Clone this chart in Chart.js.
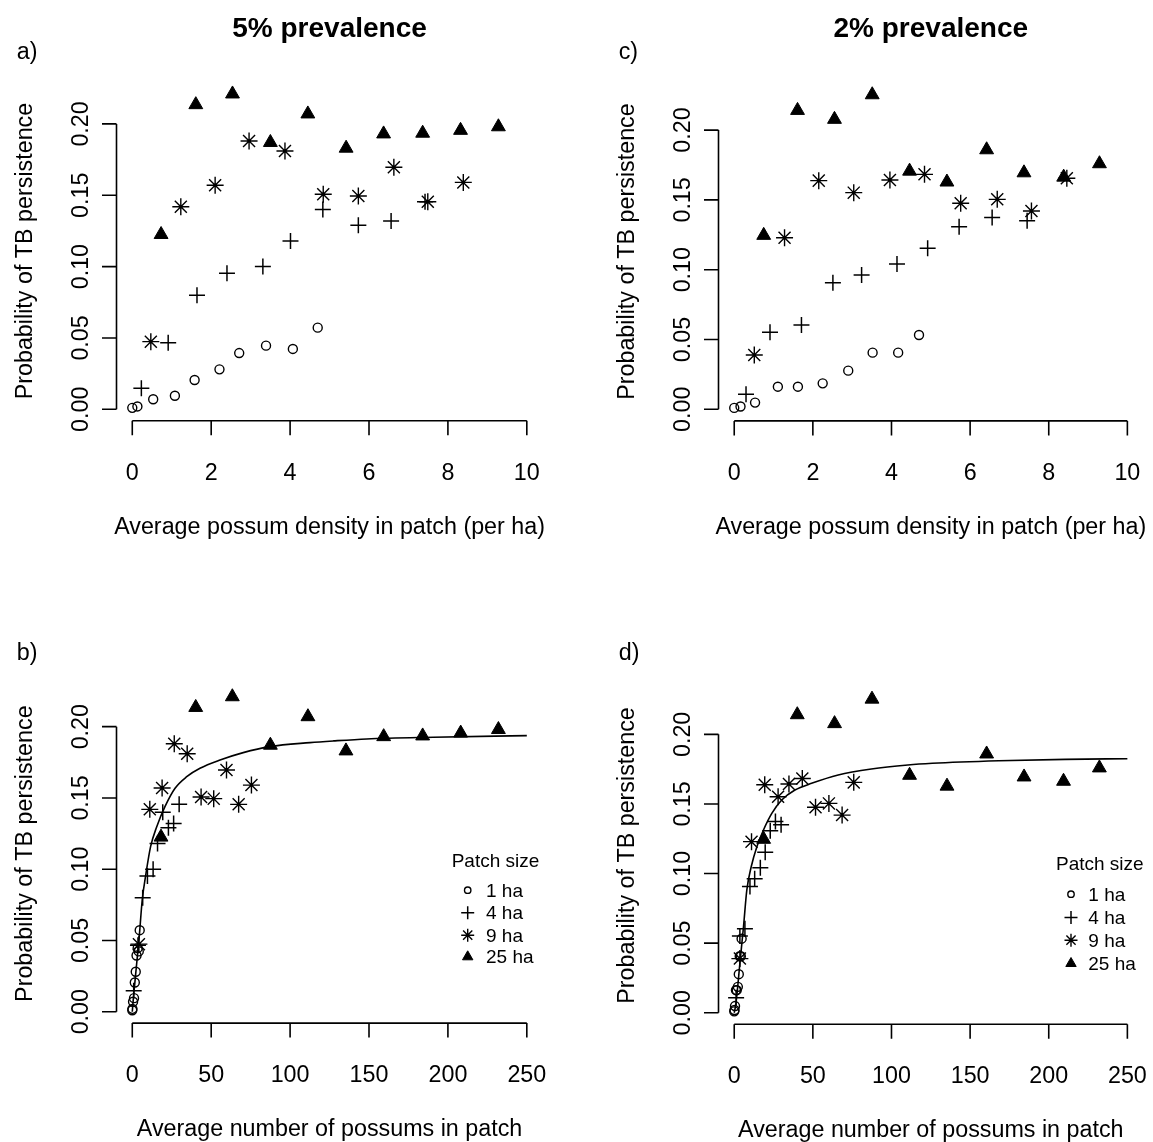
<!DOCTYPE html>
<html>
<head>
<meta charset="utf-8">
<script src="https://cdn.jsdelivr.net/npm/chart.js@4.4.1/dist/chart.umd.min.js"></script>
<style>
  html, body { margin: 0; padding: 0; background: #fff; }
  body { width: 1153px; height: 1142px; position: relative; overflow: hidden; }
  canvas { position: absolute; }
</style>
</head>
<body>
<canvas id="panelA" width="600" height="600" style="left:0px;top:0px"></canvas>
<canvas id="panelC" width="553" height="600" style="left:600px;top:0px"></canvas>
<canvas id="panelB" width="600" height="542" style="left:0px;top:600px"></canvas>
<canvas id="panelD" width="553" height="542" style="left:600px;top:600px"></canvas>
<script>
// patch sizes
const patchLabels = ["1 ha", "4 ha", "9 ha", "25 ha"];

// tick labels
const densityTicks = [0, 2, 4, 6, 8, 10];
const countTicks = [0, 50, 100, 150, 200, 250];
const probTicks = [0, 0.05, 0.10, 0.15, 0.20];

// ---- 5% prevalence ----
// probability of TB persistence, per patch size
const prob5_1ha  = [0.001, 0.002, 0.007, 0.0095, 0.0205, 0.028, 0.0394, 0.0446, 0.0423, 0.0572];
const prob5_4ha  = [0.0147, 0.0467, 0.080, 0.0953, 0.100, 0.118, 0.140, 0.129, 0.132, 0.1455];
const prob5_9ha  = [0.0474, 0.142, 0.157, 0.188, 0.181, 0.1507, 0.1495, 0.1696, 0.1455, 0.159];
const prob5_25ha = [0.1225, 0.2135, 0.221, 0.187, 0.207, 0.183, 0.193, 0.1935, 0.1955, 0.198];
// average possum density (per ha)
const dens5_1ha  = [0.0, 0.13, 0.53, 1.08, 1.58, 2.21, 2.71, 3.39, 4.07, 4.70];
const dens5_4ha  = [0.23, 0.91, 1.64, 2.40, 3.31, 4.01, 4.83, 5.73, 6.56, 7.42];
const dens5_9ha  = [0.47, 1.23, 2.10, 2.96, 3.87, 4.84, 5.73, 6.63, 7.49, 8.39];
const dens5_25ha = [0.73, 1.61, 2.54, 3.50, 4.45, 5.42, 6.37, 7.36, 8.32, 9.28];
// average number of possums in patch
const count5_1ha  = [0.0, 0.1, 0.5, 1.1, 1.6, 2.2, 2.7, 3.4, 4.1, 4.7];
const count5_4ha  = [0.9, 3.6, 6.6, 9.6, 13.2, 16.0, 19.3, 22.9, 26.2, 29.7];
const count5_9ha  = [4.2, 11.1, 18.9, 26.6, 34.8, 43.6, 51.6, 59.7, 67.4, 75.5];
const count5_25ha = [18.2, 40.2, 63.4, 87.5, 111.3, 135.4, 159.3, 184.0, 208.1, 232.0];
// fitted curve
const fit5X = [0, 0.6, 2.8, 4.4, 6.3, 8.7, 11.6, 15.5, 20.7, 27.1, 34.5, 42.9, 55.6, 70.3, 87.3, 112.6, 127.4, 148.5, 190.7, 250];
const fit5Y = [0.0, 0.0082, 0.034, 0.0526, 0.0784, 0.0971, 0.1158, 0.1298, 0.1439, 0.1568, 0.1649, 0.1708, 0.1766, 0.1818, 0.186, 0.1888, 0.190, 0.1914, 0.1926, 0.1937];

// ---- 2% prevalence ----
const prob2_1ha  = [0.001, 0.002, 0.0048, 0.0162, 0.0162, 0.0186, 0.0277, 0.0406, 0.0406, 0.0532];
const prob2_4ha  = [0.0107, 0.0552, 0.0604, 0.0907, 0.0962, 0.1041, 0.1153, 0.1308, 0.1373, 0.1351];
const prob2_9ha  = [0.0389, 0.1229, 0.1638, 0.1552, 0.1643, 0.1683, 0.1476, 0.1504, 0.1420, 0.1655];
const prob2_25ha = [0.1246, 0.2141, 0.2077, 0.2253, 0.1706, 0.1628, 0.1859, 0.1694, 0.1663, 0.1759];
const dens2_1ha  = [0.0, 0.16, 0.53, 1.11, 1.62, 2.25, 2.90, 3.52, 4.17, 4.70];
const dens2_4ha  = [0.30, 0.91, 1.71, 2.51, 3.24, 4.14, 4.92, 5.72, 6.56, 7.45];
const dens2_9ha  = [0.51, 1.28, 2.15, 3.04, 3.96, 4.84, 5.76, 6.69, 7.56, 8.46];
const dens2_25ha = [0.75, 1.61, 2.55, 3.51, 4.46, 5.41, 6.42, 7.37, 8.38, 9.29];
const count2_1ha  = [0.0, 0.2, 0.5, 1.1, 1.6, 2.3, 2.9, 3.5, 4.2, 4.7];
const count2_4ha  = [1.2, 3.6, 6.8, 10.0, 13.0, 16.6, 19.7, 22.9, 26.2, 29.8];
const count2_9ha  = [3.6, 11.0, 19.4, 27.9, 34.8, 43.3, 51.7, 60.2, 68.6, 76.0];
const count2_25ha = [18.7, 40.1, 63.8, 87.6, 111.5, 135.3, 160.5, 184.3, 209.4, 232.2];
const fit2X = [0, 1.1, 3.8, 5.9, 8.0, 10.8, 14.4, 18.6, 23.9, 30.2, 38.6, 49.2, 66.1, 87.2, 110.4, 126, 168.3, 210.5, 250];
const fit2Y = [0.0, 0.0068, 0.0379, 0.0618, 0.0881, 0.1049, 0.1193, 0.1313, 0.1432, 0.1528, 0.160, 0.1648, 0.1708, 0.1751, 0.178, 0.1792, 0.181, 0.182, 0.1825];

const FONT = "'Liberation Sans', Arial, Helvetica, sans-serif";
const FS = 23.3;
const TICK = 14.5;

const markStyles = [
  { pointStyle: "circle", radius: 4.5, fill: "rgba(0,0,0,0)", width: 1.4, legendRadius: 3.2 },
  { pointStyle: "cross", radius: 8, fill: "#000", width: 1.5, legendRadius: 6.5 },
  { pointStyle: "star", radius: 8.5, fill: "#000", width: 1.4, legendRadius: 6.5 },
  { pointStyle: "triangle", radius: 8, fill: "#000", width: 1, legendRadius: 6 }
];

function pairs(xs, ys) {
  return xs.map((v, i) => ({ x: v, y: ys[i] }));
}

function pointSets(xLists, yLists) {
  return xLists.map((xs, i) => ({
    label: patchLabels[i],
    data: pairs(xs, yLists[i]),
    showLine: false,
    pointStyle: markStyles[i].pointStyle,
    pointRadius: markStyles[i].radius,
    pointBorderWidth: markStyles[i].width,
    pointBorderColor: "#000",
    pointBackgroundColor: markStyles[i].fill
  }));
}

function curveSet(xs, ys) {
  return {
    label: "fit",
    data: pairs(xs, ys),
    showLine: true,
    pointRadius: 0,
    borderColor: "#000",
    borderWidth: 1.6,
    cubicInterpolationMode: "monotone"
  };
}

// R-style axes, titles and legend drawn from the chart's own scales
function rStyle(cfg) {
  return {
    id: "rStyle",
    afterDraw(chart) {
      const { ctx, chartArea: area } = chart;
      const xs = chart.scales.x, ys = chart.scales.y;
      ctx.save();
      ctx.strokeStyle = "#000";
      ctx.fillStyle = "#000";
      ctx.lineWidth = 1.6;
      ctx.beginPath();
      const xa = xs.getPixelForValue(cfg.xTicks[0]);
      const xb = xs.getPixelForValue(cfg.xTicks[cfg.xTicks.length - 1]);
      ctx.moveTo(xa, area.bottom);
      ctx.lineTo(xb, area.bottom);
      cfg.xTicks.forEach(v => {
        const p = xs.getPixelForValue(v);
        ctx.moveTo(p, area.bottom);
        ctx.lineTo(p, area.bottom + TICK);
      });
      const ya = ys.getPixelForValue(probTicks[0]);
      const yb = ys.getPixelForValue(probTicks[probTicks.length - 1]);
      ctx.moveTo(area.left, ya);
      ctx.lineTo(area.left, yb);
      probTicks.forEach(v => {
        const p = ys.getPixelForValue(v);
        ctx.moveTo(area.left, p);
        ctx.lineTo(area.left - TICK, p);
      });
      ctx.stroke();

      ctx.font = FS + "px " + FONT;
      ctx.textAlign = "center";
      ctx.textBaseline = "alphabetic";
      cfg.xTicks.forEach(v => ctx.fillText(String(v), xs.getPixelForValue(v), area.bottom + 59));
      probTicks.forEach(v => {
        ctx.save();
        ctx.translate(area.left - 29, ys.getPixelForValue(v));
        ctx.rotate(-Math.PI / 2);
        ctx.fillText(v.toFixed(2), 0, 0);
        ctx.restore();
      });
      const midX = (area.left + area.right) / 2;
      const midY = (area.top + area.bottom) / 2;
      ctx.fillText(cfg.xTitle, midX, area.bottom + 113);
      ctx.save();
      ctx.translate(area.left - 85, midY);
      ctx.rotate(-Math.PI / 2);
      ctx.fillText("Probability of TB persistence", 0, 0);
      ctx.restore();

      ctx.textAlign = "left";
      ctx.fillText(cfg.letter, cfg.letterX, cfg.letterY);
      if (cfg.title) {
        ctx.font = "bold 28px " + FONT;
        ctx.textAlign = "center";
        ctx.fillText(cfg.title, midX, 37);
      }

      if (cfg.legend) {
        const lg = cfg.legend;
        ctx.font = "19px " + FONT;
        ctx.textAlign = "left";
        ctx.fillText("Patch size", lg.x, lg.titleY);
        lg.rows.forEach((by, i) => {
          ctx.fillStyle = "#000";
          ctx.fillText(patchLabels[i], lg.textX, by);
          const m = markStyles[i];
          ctx.fillStyle = m.fill;
          ctx.strokeStyle = "#000";
          ctx.lineWidth = m.width;
          Chart.helpers.drawPoint(ctx, { pointStyle: m.pointStyle, radius: m.legendRadius, rotation: 0, borderWidth: m.width }, lg.symX, by - 6.5);
        });
      }
      ctx.restore();
    }
  };
}

function makePanel(id, cfg) {
  const datasets = pointSets(cfg.xLists, cfg.yLists);
  if (cfg.fit) datasets.push(curveSet(cfg.fit[0], cfg.fit[1]));
  new Chart(document.getElementById(id), {
    type: "scatter",
    data: { datasets },
    options: {
      responsive: false,
      animation: false,
      devicePixelRatio: 1,
      events: [],
      layout: { padding: cfg.padding },
      plugins: { legend: { display: false }, tooltip: { enabled: false } },
      scales: {
        x: { type: "linear", display: false, min: cfg.xRange[0], max: cfg.xRange[1] },
        y: { type: "linear", display: false, min: cfg.yRange[0], max: cfg.yRange[1] }
      }
    },
    plugins: [rStyle(cfg)]
  });
}

makePanel("panelA", {
  xLists: [dens5_1ha, dens5_4ha, dens5_9ha, dens5_25ha],
  yLists: [prob5_1ha, prob5_4ha, prob5_9ha, prob5_25ha],
  padding: { left: 116.5, right: 57.4, top: 81.4, bottom: 179.3 },
  xRange: [-0.4, 10.4], yRange: [-0.008, 0.2298],
  xTicks: densityTicks,
  xTitle: "Average possum density in patch (per ha)",
  title: "5% prevalence", letter: "a)", letterX: 16.7, letterY: 59
});

makePanel("panelC", {
  xLists: [dens2_1ha, dens2_4ha, dens2_9ha, dens2_25ha],
  yLists: [prob2_1ha, prob2_4ha, prob2_9ha, prob2_25ha],
  padding: { left: 118.5, right: 8.2, top: 82.2, bottom: 179.1 },
  xRange: [-0.4, 10.4], yRange: [-0.0083, 0.2343],
  xTicks: densityTicks,
  xTitle: "Average possum density in patch (per ha)",
  title: "2% prevalence", letter: "c)", letterX: 18.7, letterY: 59
});

makePanel("panelB", {
  xLists: [count5_1ha, count5_4ha, count5_9ha, count5_25ha],
  yLists: [prob5_1ha, prob5_4ha, prob5_9ha, prob5_25ha],
  fit: [fit5X, fit5Y],
  padding: { left: 116.5, right: 57.4, top: 84.2, bottom: 118.9 },
  xRange: [-10, 260], yRange: [-0.008, 0.2298],
  xTicks: countTicks,
  xTitle: "Average number of possums in patch",
  letter: "b)", letterX: 16.7, letterY: 60,
  legend: { x: 451.7, titleY: 266.7, symX: 467.7, textX: 486, rows: [296.7, 319.3, 341.7, 363.3] }
});

makePanel("panelD", {
  xLists: [count2_1ha, count2_4ha, count2_9ha, count2_25ha],
  yLists: [prob2_1ha, prob2_4ha, prob2_9ha, prob2_25ha],
  fit: [fit2X, fit2Y],
  padding: { left: 118.5, right: 8.2, top: 86.6, bottom: 117.7 },
  xRange: [-10, 260], yRange: [-0.0083, 0.2343],
  xTicks: countTicks,
  xTitle: "Average number of possums in patch",
  letter: "d)", letterX: 18.7, letterY: 60,
  legend: { x: 456, titleY: 270, symX: 471, textX: 488.3, rows: [300.7, 324, 346.7, 370] }
});
</script>
</body>
</html>
